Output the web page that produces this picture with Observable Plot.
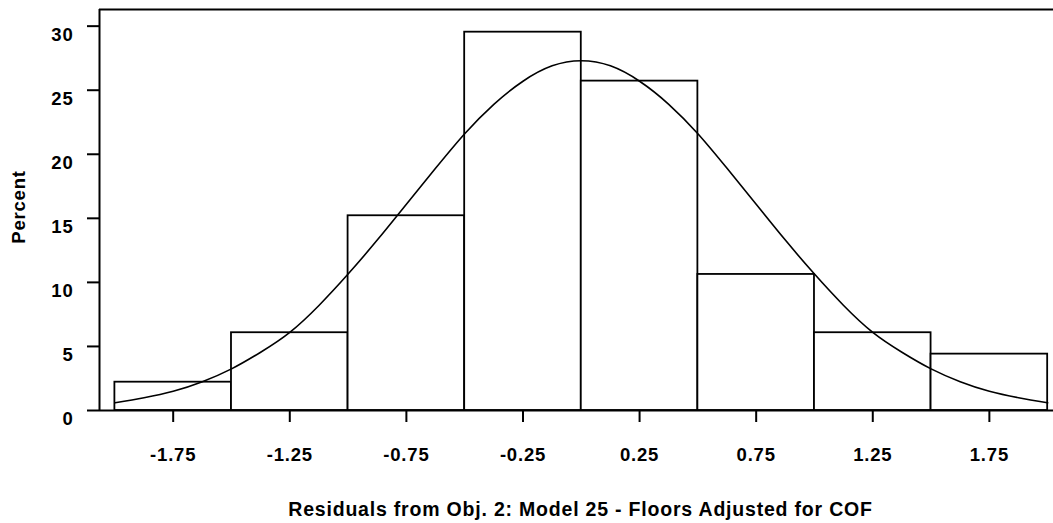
<!DOCTYPE html>
<html><head><meta charset="utf-8">
<script src="https://cdn.jsdelivr.net/npm/d3@7"></script>
<script src="https://cdn.jsdelivr.net/npm/@observablehq/plot@0.6"></script>
<style>
html,body{margin:0;padding:0;background:#fff;}
</style></head><body><div id="chart"></div>
<script>
// Histogram bins (residual intervals) and their percentages
const binStart = [-2, -1.5, -1, -0.5, 0, 0.5, 1, 1.5];
const binEnd   = [-1.5, -1, -0.5, 0, 0.5, 1, 1.5, 2];
const percent  = [2.21, 6.07, 15.2, 29.53, 25.71, 10.62, 6.07, 4.40];

// Fitted normal curve
const curveX = [-2, -1.875, -1.75, -1.625, -1.5, -1.375, -1.25, -1.125, -1, -0.875, -0.75, -0.625, -0.5, -0.375, -0.25, -0.125, 0,
                0.125, 0.25, 0.375, 0.5, 0.625, 0.75, 0.875, 1, 1.125, 1.25, 1.375, 1.5, 1.625, 1.75, 1.875, 2];
const curveY = [0.6, 1.0, 1.5, 2.25, 3.25, 4.55, 6.1, 8.2, 10.65, 13.3, 16.1, 18.9, 21.6, 23.9, 25.7, 26.9, 27.3,
                26.9, 25.7, 23.9, 21.6, 18.9, 16.1, 13.3, 10.65, 8.2, 6.1, 4.55, 3.25, 2.25, 1.5, 1.0, 0.6];

const xTicks = [-1.75, -1.25, -0.75, -0.25, 0.25, 0.75, 1.25, 1.75];
const yTicks = [0, 5, 10, 15, 20, 25, 30];
const xLabel = "Residuals from Obj. 2: Model 25 - Floors Adjusted for COF";
const yLabel = "Percent";
const xDomain = [-2.066, 2.025];
const yDomain = [0, 31.3];

const bars = binStart.map((s, i) => ({x1: s, x2: binEnd[i], y: percent[i]}));
const curve = curveX.map((x, i) => ({x, y: curveY[i]}));

const font = '"Liberation Sans", Arial, Helvetica, sans-serif';

const chart = Plot.plot({
  width: 1053,
  height: 523,
  marginLeft: 99,
  marginRight: 0,
  marginTop: 9,
  marginBottom: 113,
  style: {fontFamily: font, fontWeight: "bold", fontSize: "18.5px", background: "#fff", color: "#000", letterSpacing: "0.8px", overflow: "visible"},
  x: {domain: xDomain},
  y: {domain: yDomain},
  marks: [
    Plot.rectY(bars, {x1: "x1", x2: "x2", y1: 0, y2: "y", fill: "white", stroke: "black", strokeWidth: 1.8}),
    Plot.line(curve, {x: "x", y: "y", stroke: "black", strokeWidth: 1.6, curve: "natural"}),
    Plot.ruleX([xDomain[0]], {stroke: "black", strokeWidth: 2}),
    Plot.ruleY([yDomain[1]], {stroke: "black", strokeWidth: 2}),
    Plot.ruleY([0], {stroke: "black", strokeWidth: 2}),
    Plot.axisX({ticks: xTicks, tickSize: 12, tickPadding: 25, tickFormat: d => d.toFixed(2), label: null, strokeWidth: 2, fontSize: 18.5}),
    // y tick marks (no labels)
    Plot.axisY({ticks: yTicks, tickSize: 12, tickFormat: () => "", label: null, strokeWidth: 2}),
    // y tick labels, sitting slightly below their ticks as in the original
    Plot.axisY({ticks: yTicks, tickSize: 0, tickPadding: 26, dy: 9, tickFormat: d => String(d), label: null, fontSize: 18.5}),
    Plot.text([xLabel], {text: d => d, frameAnchor: "bottom", lineAnchor: "bottom", dy: 105, dx: 4, fontSize: 19.5, fontWeight: "bold"}),
    Plot.text([yLabel], {text: d => d, frameAnchor: "left", textAnchor: "middle", rotate: -90, lineAnchor: "middle", dx: -80, dy: -3, fontSize: 18.5, fontWeight: "bold"})
  ]
});
document.getElementById("chart").appendChild(chart);
</script>
</body></html>
